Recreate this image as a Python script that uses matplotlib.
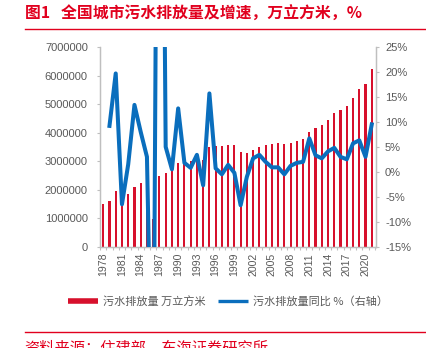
"""
全国城市污水排放量及增速 (bar + growth line on twin axis).
"""

import matplotlib

matplotlib.use("Agg")
import matplotlib.pyplot as plt
from matplotlib.lines import Line2D
from matplotlib.ticker import FixedLocator, FuncFormatter
import numpy as np

# ---- data ----
years = list(range(1978, 2022))
discharge = [
    1490000, 1620000, 1950000, 1480000, 1840000, 2090000, 2250000, 2320000, 960000, 2490000,
    2600000, 2800000, 2940000, 2970000, 3020000, 3050000, 3030000, 3510000, 3530000, 3520000,
    3560000, 3560000, 3310000, 3280000, 3380000, 3490000, 3560000, 3590000, 3620000, 3600000,
    3640000, 3710000, 3780000, 4030000, 4160000, 4270000, 4450000, 4670000, 4790000, 4920000,
    5200000, 5540000, 5720000, 6240000,
]
growth = [
    np.nan, 9.2, 19.7, -6.5, 1.5, 13.4, 8.0, 3.0, -59.0, 160.0,
    5.0, 0.5, 12.7, 1.8, 0.8, 3.4, -2.7, 15.7, 0.7, -0.5,
    1.4, -0.2, -6.7, -1.0, 2.7, 3.4, 2.0, 0.9, 0.9, -0.5,
    1.2, 1.8, 2.0, 6.7, 3.3, 2.7, 4.1, 4.8, 3.0, 2.5,
    5.7, 6.3, 3.0, 9.5,
]
left_ticks = [0, 1000000, 2000000, 3000000, 4000000, 5000000, 6000000, 7000000]
right_ticks = [-15, -10, -5, 0, 5, 10, 15, 20, 25]
label_years = list(range(1978, 2022, 3))

title = "图1   全国城市污水排放量及增速，万立方米，%"
bar_label = "污水排放量 万立方米"
line_label = "污水排放量同比 %（右轴）"
source = "资料来源：住建部，东海证券研究所"

RED = "#D7102C"
TITLE_RED = "#E1001E"
BLUE = "#0A6EBD"
GREY = "#595959"
SPINE = "#BFBFBF"
CJK = ["Noto Sans CJK SC", "DejaVu Sans"]


def main() -> None:
    plt.rcParams["font.family"] = ["Liberation Sans", "Noto Sans CJK SC"]
    fig = plt.figure(figsize=(4.27, 3.48), dpi=100)
    ax = fig.add_axes([0.234, 0.291, 0.646, 0.574])
    ax2 = ax.twinx()

    x = np.array(years, dtype=float)
    ax.bar(x, discharge, width=0.34, color=RED, zorder=2)
    ax2.plot(x, growth, color=BLUE, linewidth=2.9, zorder=3)

    ax.set_xlim(1977.47, 2021.64)
    ax.set_ylim(0, 7000000)
    ax2.set_ylim(-15, 25)

    ax.yaxis.set_major_locator(FixedLocator(left_ticks))
    ax.yaxis.set_major_formatter(FuncFormatter(lambda v, _: f"{int(v)}"))
    ax2.yaxis.set_major_locator(FixedLocator(right_ticks))
    ax2.yaxis.set_major_formatter(FuncFormatter(lambda v, _: f"{int(v)}%"))

    ax.set_xticks(label_years)
    ax.set_xticklabels([str(y) for y in label_years], rotation=90)
    ax.set_xticks(np.arange(1977.5, 2022.0, 1.0), minor=True)

    ax.tick_params(axis="x", which="major", length=0, pad=4.5, labelsize=7.6, labelcolor=GREY)
    ax.tick_params(axis="x", which="minor", length=2.2, color=SPINE, width=0.8)
    ax.tick_params(axis="y", length=2.2, color=SPINE, width=0.8, pad=6.5, labelsize=8, labelcolor=GREY)
    ax2.tick_params(axis="y", length=2.2, color=SPINE, width=0.8, pad=4.5, labelsize=8, labelcolor=GREY)

    for a in (ax, ax2):
        a.spines["top"].set_visible(False)
        for side in ("left", "right", "bottom"):
            a.spines[side].set_color(SPINE)
            a.spines[side].set_linewidth(0.9)

    # title, rules and source
    fig.text(0.058, 0.960, title, family=CJK, fontsize=11.4, fontweight="bold",
             color=TITLE_RED, ha="left", va="center")
    fig.add_artist(Line2D([0.058, 1.0], [0.9175, 0.9175], color=TITLE_RED, linewidth=1.0))
    fig.add_artist(Line2D([0.058, 1.0], [0.047, 0.047], color=TITLE_RED, linewidth=1.0))
    fig.text(0.058, 0.024, source, family=CJK, fontsize=11, color=TITLE_RED,
             ha="left", va="top")

    handles = [
        Line2D([], [], color=RED, linewidth=4.0, solid_capstyle="butt"),
        Line2D([], [], color=BLUE, linewidth=2.4, solid_capstyle="butt"),
    ]
    fig.legend(handles, [bar_label, line_label], loc="center", bbox_to_anchor=(0.534, 0.135),
               ncol=2, frameon=False, handlelength=2.7, handletextpad=0.4, columnspacing=1.2,
               prop={"family": CJK, "size": 8}, labelcolor=GREY)

    fig.savefig("out.png", dpi=100)
    plt.close(fig)


if __name__ == "__main__":
    main()
